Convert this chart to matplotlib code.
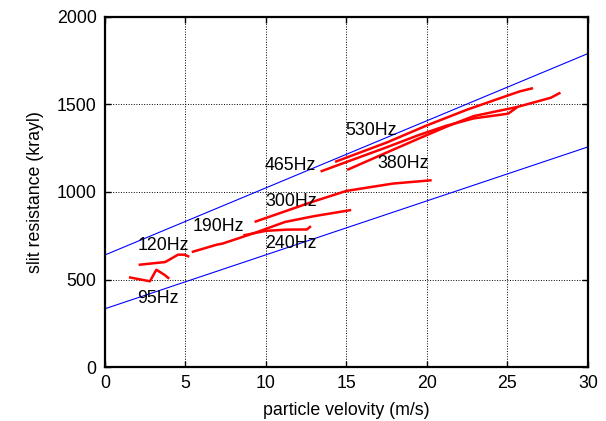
import matplotlib
matplotlib.use("Agg")
import matplotlib.pyplot as plt

plt.rcParams['font.family'] = ['Liberation Sans', 'DejaVu Sans']

# measured curves (particle velocity m/s, slit resistance krayl)
v_95 = [1.5, 2.8, 3.2, 3.7, 4.0]
r_95 = [513, 490, 556, 527, 505]
v_120 = [2.1, 3.75, 4.55, 4.95, 5.25]
r_120 = [584, 600, 642, 642, 630]
v_190 = [5.4, 6.95, 7.3, 9.3, 11.2, 13.0, 15.3]
r_190 = [657, 699, 705, 766, 829, 862, 897]
v_240 = [8.6, 10.0, 11.3, 12.55, 12.8]
r_240 = [752, 778, 785, 786, 805]
v_300 = [9.3, 12.9, 15.0, 17.9, 20.3]
r_300 = [829, 944, 1006, 1048, 1067]
v_380 = [15.05, 17.5, 19.5, 21.2, 22.9, 25.6, 27.7, 28.3]
r_380 = [1126, 1225, 1305, 1372, 1433, 1485, 1538, 1567]
v_465 = [13.4, 17.5, 19.5, 21.2, 22.9, 25.05, 25.6]
r_465 = [1117, 1255, 1325, 1378, 1420, 1447, 1483]
v_530 = [14.3, 17.5, 20.0, 22.5, 25.0, 25.8, 26.6]
r_530 = [1172, 1282, 1380, 1470, 1550, 1575, 1593]

# bounding lines
bound_v = [0, 30]
bound_upper = [640, 1790]
bound_lower = [333, 1257]

freq_labels = ['95Hz', '120Hz', '190Hz', '240Hz', '300Hz', '380Hz', '465Hz', '530Hz']
label_v = [2.0, 2.05, 5.45, 9.95, 9.95, 16.95, 9.95, 14.95]
label_r = [391, 695, 805, 705, 945, 1163, 1150, 1350]

fig = plt.figure(figsize=(6.06, 4.21), dpi=100)
ax = fig.add_axes([0.173, 0.128, 0.797, 0.832])

ax.plot(bound_v, bound_upper, color='#0000ff', lw=0.8)
ax.plot(bound_v, bound_lower, color='#0000ff', lw=0.8)

curves = [(v_95, r_95), (v_120, r_120), (v_190, r_190), (v_240, r_240),
          (v_300, r_300), (v_380, r_380), (v_465, r_465), (v_530, r_530)]
for vv, rr in curves:
    ax.plot(vv, rr, color='#ff0000', lw=1.8, solid_capstyle='butt')

for txt, lx, ly in zip(freq_labels, label_v, label_r):
    ax.text(lx, ly, txt, fontsize=12.8, ha='left', va='center', color='black')

ax.set_xlim(0, 30)
ax.set_ylim(0, 2000)
ax.set_xticks(range(0, 31, 5))
ax.set_yticks(range(0, 2001, 500))
ax.grid(True, color='black', linestyle=':', linewidth=0.7)
ax.tick_params(direction='in', top=True, right=True, length=4, width=1,
               labelsize=12.8, pad=6)
for s in ax.spines.values():
    s.set_linewidth(1.6)

ax.set_xlabel('particle velovity (m/s)', fontsize=12.8, labelpad=7)
ax.set_ylabel('slit resistance (krayl)', fontsize=12.8, labelpad=9)

fig.savefig('out.png', dpi=100)
